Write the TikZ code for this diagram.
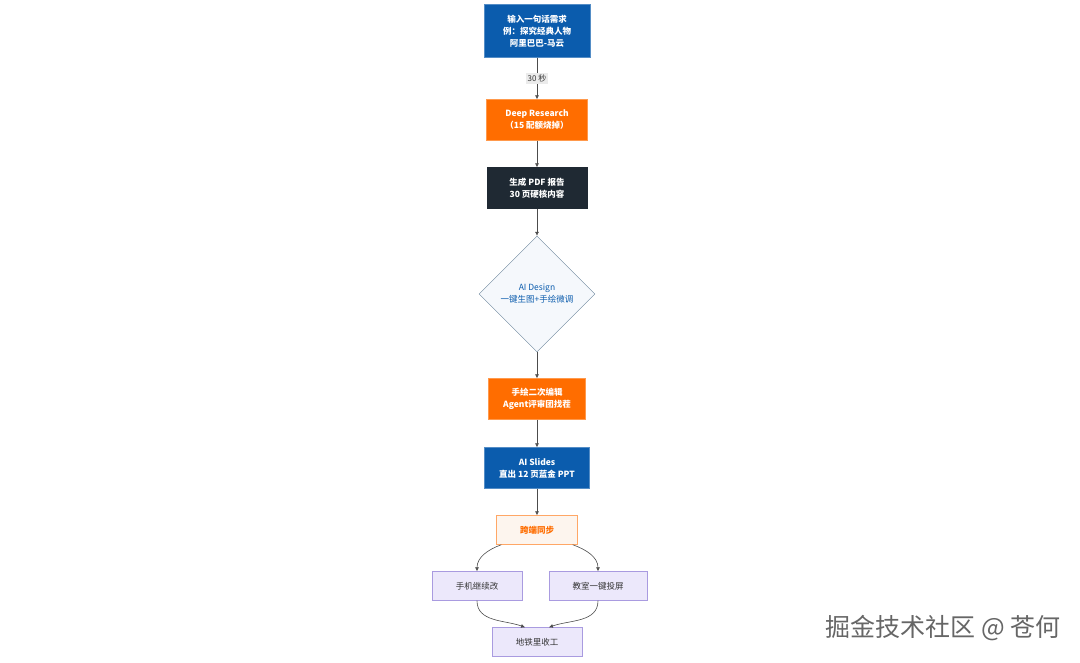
\documentclass[tikz,border=0pt]{standalone}
\usepackage{fontspec}
\setmainfont{Noto Sans CJK SC}
\usetikzlibrary{shapes.geometric,arrows.meta}
\definecolor{cblue}{HTML}{0B5CAD}
\definecolor{corange}{HTML}{FF6D00}
\definecolor{cdark}{HTML}{1F2933}
\definecolor{clav}{HTML}{ECE8FB}
\definecolor{clavb}{HTML}{A99BE0}
\definecolor{cpeach}{HTML}{FDF5EE}
\begin{document}
\begin{tikzpicture}[x=1pt,y=-1pt,
  box/.style={rectangle,draw,minimum width=#1,align=center,font=\fontsize{8.5}{12}\selectfont\bfseries,text=white,inner sep=2pt},
  blue/.style={box=#1,fill=cblue,draw=cblue!70!white},
  orange/.style={box=#1,fill=corange,draw=corange!70!white},
  lav/.style={rectangle,draw=clavb,fill=clav,minimum width=#1,minimum height=29pt,font=\fontsize{8.5}{11}\selectfont,text=black!80},
  arr/.style={draw=black!70,line width=0.6pt,-{Latex[length=4pt,width=4pt]}}]
\useasboundingbox (0,0) rectangle (1080,662);
\fill[white] (0,0) rectangle (1080,662);
\node[blue=106pt,minimum height=53pt] (a) at (537,31) {输入一句话需求\\例：探究经典人物\\阿里巴巴-马云};
\node[orange=101pt,minimum height=41pt] (b) at (537,120) {Deep Research\\（15 配额烧掉）};
\node[box=100pt,minimum height=41pt,fill=cdark,draw=cdark] (c) at (537,188) {生成 PDF 报告\\30 页硬核内容};
\node[diamond,draw=black!50!cblue!60,fill=cblue!4,minimum width=116pt,minimum height=116pt,inner sep=0pt,align=center,font=\fontsize{8.5}{12}\selectfont,text=cblue] (d) at (537,294) {AI Design\\一键生图+手绘微调};
\node[orange=97pt,minimum height=41pt] (e) at (537,399) {手绘二次编辑\\Agent评审团找茬};
\node[blue=105pt,minimum height=41pt] (f) at (537,468) {AI Slides\\直出 12 页蓝金 PPT};
\node[rectangle,draw=corange!60,fill=cpeach,minimum width=81pt,minimum height=29pt,font=\fontsize{8.5}{11}\selectfont\bfseries,text=corange] (g) at (537,530) {跨端同步};
\node[lav=90pt] (h) at (477,586) {手机继续改};
\node[lav=98pt] (i) at (598,586) {教室一键投屏};
\node[lav=90pt] (j) at (537,642) {地铁里收工};
\draw[arr] (a) -- node[fill=black!8,inner sep=1.5pt,font=\fontsize{8}{10}\selectfont,text=black!80]{30 秒} (b);
\draw[arr] (b) -- (c);
\draw[arr] (c) -- (d.north);
\draw[arr] (d.south) -- (e);
\draw[arr] (e) -- (f);
\draw[arr] (f) -- (g);
\draw[arr] (g.south west)++(5,0) to[out=200,in=90] (h.north);
\draw[arr] (g.south east)++(-5,0) to[out=-20,in=90] (i.north);
\draw[arr] (h.south) to[out=-90,in=160] ([xshift=-12pt]j.north);
\draw[arr] (i.south) to[out=-90,in=20] ([xshift=12pt]j.north);
\node[font=\fontsize{25}{28}\selectfont,text=black!60] (w) at (943,628) {掘金技术社区 @ 苍何};
\end{tikzpicture}
\end{document}
